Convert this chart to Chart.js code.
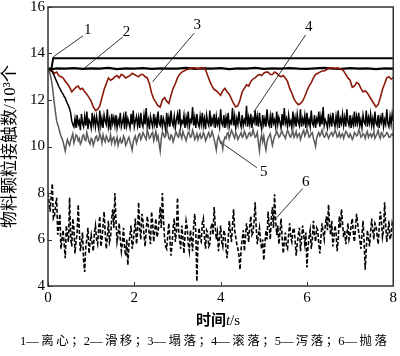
<!DOCTYPE html>
<html><head><meta charset="utf-8">
<script src="https://cdn.jsdelivr.net/npm/chart.js@4"></script>
<style>
html,body{margin:0;padding:0;background:#fff;}
#wrap{position:relative;width:400px;height:356px;overflow:hidden;}
#xt{position:absolute;left:118px;width:200px;top:310px;text-align:center;font-size:15px;line-height:18px;color:#000;}
#xt .cn{font-family:'Noto Sans CJK SC',sans-serif;font-weight:bold;}
#xt .en{font-family:'Liberation Serif',serif;}
#cap{position:absolute;left:20px;width:367px;top:333px;text-align:justify;text-align-last:justify;text-justify:inter-character;font-family:'Liberation Serif','Noto Sans CJK SC',serif;font-size:12.5px;line-height:16px;color:#000;white-space:nowrap;}
</style>
</head><body>
<div id="wrap">
<canvas id="c" width="400" height="356"></canvas>
<div id="xt"><span class="cn">时间</span><span class="en"><i>t</i>/s</span></div>
<div id="cap">1—离心；2—滑移；3—塌落；4—滚落；5—泻落；6—抛落</div>
</div>
<script>
// ---------- data ----------
const xTickLabels = [0, 2, 4, 6, 8];
const yTickLabels = [4, 6, 8, 10, 12, 14, 16];
const seriesNames = ['1', '2', '3', '4', '5', '6'];

// line 1 (离心): explicit time / value pairs
const line1T = [0, 0.08, 0.12, 8];
const line1V = [13.35, 13.35, 13.8, 13.8];

// line 2 (滑移): sampled every 0.2 s
const line2Step = 0.2;
const line2V = [13.30,13.36,13.35,13.37,13.34,13.36,13.35,13.38,13.33,13.36,
13.35,13.37,13.34,13.36,13.35,13.35,13.38,13.34,13.36,13.35,
13.37,13.33,13.36,13.35,13.38,13.34,13.36,13.35,13.37,13.35,
13.34,13.36,13.38,13.35,13.34,13.37,13.35,13.36,13.33,13.36,13.35];

// line 3 (塌落): sampled every 0.05 s
const line3Step = 0.05;
const line3V = [13.30,13.28,13.25,13.15,13.20,13.05,13.00,12.95,12.80,12.70,
12.55,12.35,12.45,12.55,12.60,12.45,12.50,12.35,12.25,12.10,
11.95,11.70,11.55,11.60,11.75,12.10,12.45,12.70,12.95,12.85,
12.90,13.00,13.05,12.95,13.10,13.05,12.95,13.00,13.05,13.15,
13.10,13.05,13.00,13.10,13.10,13.00,12.95,12.70,12.30,12.05,
11.90,11.75,11.70,12.00,12.10,11.95,11.85,12.20,12.50,12.70,
12.95,13.10,13.20,13.25,13.30,13.32,13.35,13.38,13.38,13.35,
13.35,13.38,13.38,13.30,13.05,12.80,12.60,12.45,12.40,12.30,
12.20,12.40,12.50,12.35,12.25,12.05,11.85,11.70,11.75,12.00,
12.35,12.50,12.65,12.60,12.80,12.90,12.95,13.05,13.10,13.05,
13.15,13.20,13.20,13.10,13.10,13.20,13.15,13.05,13.00,13.05,
12.95,12.80,12.50,12.30,12.05,11.90,11.80,11.85,11.95,12.15,
12.40,12.60,12.75,12.95,13.10,13.15,13.20,13.25,13.25,13.30,
13.35,13.38,13.38,13.35,13.38,13.35,13.32,13.25,13.10,12.95,
12.85,12.55,12.60,12.75,12.70,12.50,12.35,12.40,12.30,12.15,
12.00,11.85,11.70,11.80,12.10,12.45,12.70,12.95,13.00,12.90,
12.95];

// line 4 (滚落): sampled every 0.025 s
const line4Step = 0.025;
const line4V = [13.30,13.30,13.28,13.25,13.20,13.12,13.02,12.90,12.80,12.70,
12.58,12.50,12.40,12.32,12.25,12.15,12.08,11.95,11.85,11.75,
11.62,11.45,11.10,10.95,10.85,
11.20,10.80,11.35,10.95,11.10,10.70,11.40,11.00,10.85,11.30,10.90,11.50,10.75,11.15,11.05,10.80,11.45,10.95,11.25,10.85,
11.30,11.00,10.75,11.55,10.90,11.20,10.80,11.35,11.10,10.95,11.60,10.85,11.15,10.70,11.40,11.00,11.25,10.90,11.35,10.80,
11.15,10.95,11.45,10.85,11.05,11.30,10.75,11.50,10.90,11.20,11.00,10.80,11.40,10.95,11.55,10.85,11.10,11.30,10.90,11.25,
10.80,11.45,11.00,10.85,11.35,10.95,11.65,10.90,11.15,10.75,11.30,11.05,10.85,11.40,10.95,11.20,10.80,11.50,11.00,10.90,
11.35,10.85,11.20,11.00,10.70,11.45,10.95,11.25,10.85,11.55,11.05,10.90,11.30,10.80,11.15,11.40,10.95,11.60,10.85,11.10,
11.00,11.35,10.80,11.25,10.95,11.50,10.85,11.15,11.05,11.70,10.90,11.25,10.80,11.40,11.00,10.85,11.30,10.95,11.45,10.90,
11.20,10.75,11.35,11.05,10.90,11.55,10.85,11.20,11.00,11.40,10.80,11.30,10.95,11.15,10.85,11.60,11.00,10.90,11.35,10.80,
11.25,10.95,11.45,10.85,11.10,11.00,11.65,10.90,11.30,10.80,11.20,10.95,11.50,11.05,10.85,11.35,10.90,11.15,11.00,11.75,
10.85,11.25,10.95,11.40,10.80,11.20,11.05,11.55,10.90,11.30,10.85,11.45,11.00,10.75,11.35,10.95,11.20,10.85,11.60,11.05,
10.90,11.30,10.80,11.45,11.00,11.15,10.85,11.50,10.95,11.25,11.05,10.80,11.40,10.90,11.65,11.00,11.20,10.85,11.35,10.95,
11.10,10.80,11.50,10.95,11.25,10.85,11.40,11.05,10.90,11.60,10.85,11.20,11.00,11.35,10.80,11.45,10.95,11.15,10.85,11.55,
11.00,10.90,11.35,10.80,11.20,11.05,11.50,10.85,11.30,10.95,11.70,10.90,11.15,11.00,10.80,11.40,10.95,11.25,10.85,11.45,
11.05,10.85,11.30,10.95,11.55,10.80,11.20,11.00,11.40,10.90,11.25,10.85,11.60,11.05,10.90,11.35,10.80,11.20,10.95,11.50,
10.85,11.30,11.00,11.45,10.90,11.15,10.80,11.35,11.05,10.95,11.55,10.85,11.25,11.00,11.40,10.90,11.20,10.85,11.50,11.00,
10.90,11.35,10.80,11.25,11.05,11.45,10.85,11.15,10.95,11.60,11.00,10.85,11.30,10.95,11.40,11.10];

// line 5 (泻落): sampled every 0.025 s
const line5Step = 0.025;
const line5V = [13.30,13.25,13.10,12.90,12.60,12.20,11.80,11.45,11.10,10.95,
10.80,10.60,10.45,10.35,10.20,10.00,9.80,10.10,10.30,10.15,10.05,
10.25,10.40,10.55,10.15,10.30,10.50,10.45,10.25,10.35,10.10,10.20,10.45,10.50,10.30,10.25,10.60,10.40,10.20,10.10,10.35,
10.30,10.05,10.20,10.40,10.45,10.25,10.30,10.55,10.40,10.15,10.50,10.30,10.20,10.45,10.35,10.20,10.25,10.50,10.15,10.35,
10.40,10.10,10.25,10.40,10.05,10.25,10.35,10.15,10.20,10.45,10.35,10.05,10.15,10.30,10.40,10.20,10.05,9.85,10.20,10.35,
10.45,10.15,10.30,10.50,10.55,10.30,10.40,10.60,10.50,10.40,10.30,10.70,10.55,10.35,10.40,10.55,10.60,10.25,10.45,10.65,
10.30,10.45,10.10,9.80,10.35,10.60,10.55,10.40,10.45,10.75,10.60,10.35,10.30,10.50,10.45,10.20,10.35,10.55,10.60,10.45,
10.40,10.65,10.50,10.35,10.65,10.50,10.40,10.25,10.45,10.60,10.55,10.40,10.45,10.70,10.55,10.30,10.40,10.55,10.30,10.45,
10.55,10.35,10.40,10.60,10.50,10.25,10.35,10.50,10.60,10.40,10.45,10.65,10.50,10.30,10.10,9.85,10.25,10.45,10.30,10.15,
10.20,9.90,10.25,10.40,10.35,10.55,10.60,10.35,10.50,10.70,10.60,10.45,10.35,10.60,10.50,10.30,10.40,10.50,10.60,10.40,
10.45,10.65,10.55,10.35,10.40,10.55,10.60,10.45,10.50,10.75,10.55,10.40,10.45,10.60,10.15,9.80,10.30,10.50,10.20,10.45,
10.10,9.85,10.20,10.35,10.45,10.55,10.30,10.05,10.25,10.45,10.50,10.65,10.55,10.40,10.45,10.60,10.65,10.50,10.45,10.35,
10.55,10.70,10.60,10.45,10.40,10.55,10.65,10.40,10.50,10.65,10.40,10.50,10.55,10.30,10.45,10.60,10.70,10.45,10.55,10.75,
10.60,10.40,10.45,10.55,10.60,10.35,10.20,10.00,10.35,10.50,10.60,10.45,10.55,10.70,10.50,10.40,10.45,10.60,10.50,10.35,
10.45,10.55,10.60,10.45,10.55,10.70,10.60,10.40,10.45,10.60,10.40,10.50,10.55,10.35,10.50,10.65,10.60,10.45,10.40,10.55,
10.45,10.30,10.40,10.60,10.55,10.45,10.50,10.70,10.60,10.40,10.45,10.55,10.50,10.35,10.55,10.65,10.40,10.50,10.55,10.40,
10.50,10.60,10.35,10.45,10.55,10.70,10.45,10.35,10.60,10.55,10.40,10.45,10.50,10.60,10.55,10.40,10.40,10.50,10.55,10.45];

// line 6 (抛落): sampled every 0.025 s
const line6Step = 0.025;
const line6V = [8.0,7.6,7.2,7.9,8.4,6.9,7.0,7.5,7.8,6.2,6.6,7.1,5.6,6.0,6.4,5.8,5.2,6.6,6.2,5.9,
7.8,6.1,5.7,6.9,6.5,5.4,5.9,6.3,7.5,6.4,5.5,5.9,6.3,5.1,4.6,5.7,6.0,6.5,5.4,5.9,
6.2,5.8,5.5,6.3,6.6,6.0,5.8,6.5,7.0,5.7,6.0,6.6,7.2,6.3,5.6,6.1,6.8,5.9,6.1,6.9,
7.3,6.5,8.0,6.8,5.9,6.2,6.7,6.0,5.5,5.9,6.5,5.6,5.3,6.0,4.9,5.8,6.2,6.6,5.6,5.9,
6.4,6.9,5.8,6.3,7.6,6.5,6.0,7.1,6.8,6.2,5.7,6.4,7.0,6.6,6.2,5.8,7.2,6.7,5.9,6.4,
6.9,6.1,6.3,6.8,7.4,6.5,8.0,6.9,6.1,5.7,5.6,6.2,6.7,6.0,5.3,5.8,6.5,6.9,5.9,6.3,
7.8,6.4,6.0,5.6,6.6,6.1,5.4,6.2,6.8,6.5,5.8,5.5,6.4,6.0,5.5,6.6,7.1,6.3,4.2,5.9,
6.5,6.0,5.9,6.7,6.9,6.1,5.6,6.4,6.3,5.7,5.8,6.5,6.7,6.2,7.4,6.6,6.0,6.3,5.5,6.1,
6.6,5.9,5.7,6.4,6.2,5.6,5.2,6.0,6.8,6.3,5.9,6.6,7.3,6.4,6.1,5.8,5.6,5.3,4.7,5.6,
6.0,6.4,5.5,6.1,6.7,6.3,5.9,6.6,7.0,6.2,6.3,6.8,7.6,6.5,5.8,6.2,6.5,5.9,5.6,6.0,
5.1,5.8,6.4,6.0,7.2,6.6,6.0,6.9,7.4,6.5,7.95,6.8,6.2,6.6,5.8,6.3,6.9,6.1,5.4,5.9,
6.3,5.7,5.6,6.2,6.7,6.1,5.9,6.4,6.5,6.0,5.3,5.8,6.2,6.5,5.5,6.0,6.6,6.2,5.8,6.3,
4.8,5.7,6.1,6.4,5.6,6.0,6.8,6.2,5.9,6.5,6.4,5.8,5.4,6.1,6.7,6.3,6.0,6.6,7.0,6.4,
7.5,6.6,6.2,6.8,5.7,6.1,6.6,6.3,5.5,6.0,7.0,6.5,7.3,6.7,6.1,6.4,5.8,6.2,6.7,6.0,
6.2,6.6,6.9,6.3,5.9,6.5,7.1,6.7,6.3,6.0,5.6,6.2,6.8,5.9,4.7,5.6,6.4,6.1,5.7,6.3,
6.9,6.4,6.0,6.7,6.6,6.2,5.8,6.5,7.2,6.8,6.1,6.4,7.6,6.6,5.9,6.3,6.8,6.0,6.2,6.7,
6.5];

// ---------- build ----------
const pts = (vals, step) => vals.map((v, i) => ({ x: +(i * step).toFixed(3), y: v }));
const FONT = "'Liberation Serif','Noto Sans CJK SC',serif";

// callout layout (data units): text anchor, leader start, leader end
const callouts = [
  { text: [0.92, 15.0],  from: [0.81, 14.76], to: [0.12, 13.85] },
  { text: [1.82, 14.93], from: [1.73, 14.71], to: [0.85, 13.38] },
  { text: [3.46, 15.23], from: [3.39, 14.88], to: [2.42, 12.78] },
  { text: [6.04, 15.14], from: [5.97, 14.80], to: [4.77, 11.49] },
  { text: [5.00, 8.92],  from: [4.84, 9.09],  to: [4.08, 10.08] },
  { text: [5.97, 8.45],  from: [5.90, 8.19],  to: [5.30, 6.94] }
];

const framePlugin = {
  id: 'frame',
  afterDraw(chart) {
    const { ctx, chartArea: a, scales: { x, y } } = chart;
    ctx.save();
    ctx.strokeStyle = '#333';
    ctx.lineWidth = 1.5;
    ctx.strokeRect(a.left, a.top, a.right - a.left, a.bottom - a.top);
    ctx.lineWidth = 1;
    xTickLabels.forEach(v => {
      const p = Math.round(x.getPixelForValue(v)) + 0.5;
      ctx.beginPath(); ctx.moveTo(p, a.bottom); ctx.lineTo(p, a.bottom - 4); ctx.stroke();
    });
    yTickLabels.forEach(v => {
      const p = Math.round(y.getPixelForValue(v)) + 0.5;
      ctx.beginPath(); ctx.moveTo(a.left, p); ctx.lineTo(a.left + 4, p); ctx.stroke();
    });
    // callouts
    ctx.lineWidth = 0.8;
    ctx.strokeStyle = '#000';
    ctx.fillStyle = '#000';
    ctx.font = '15px ' + FONT;
    ctx.textAlign = 'center';
    ctx.textBaseline = 'middle';
    callouts.forEach((c, i) => {
      ctx.beginPath();
      ctx.moveTo(x.getPixelForValue(c.from[0]), y.getPixelForValue(c.from[1]));
      ctx.lineTo(x.getPixelForValue(c.to[0]), y.getPixelForValue(c.to[1]));
      ctx.stroke();
      ctx.fillText(seriesNames[i], x.getPixelForValue(c.text[0]), y.getPixelForValue(c.text[1]));
    });
    ctx.restore();
  }
};

const ds = (label, data, color, width, dash) => ({
  label, data, borderColor: color, borderWidth: width, borderDash: dash || [],
  pointRadius: 0, tension: 0, fill: false
});

new Chart(document.getElementById('c'), {
  type: 'line',
  data: {
    datasets: [
      ds(seriesNames[5], pts(line6V, line6Step), '#000', 1.6, [4, 2]),
      ds(seriesNames[4], pts(line5V, line5Step), '#5a5a5a', 1.5),
      ds(seriesNames[3], pts(line4V, line4Step), '#000', 1.5),
      ds(seriesNames[2], pts(line3V, line3Step), '#8c1a0a', 1.6),
      ds(seriesNames[1], pts(line2V, line2Step), '#000', 2.2),
      ds(seriesNames[0], line1T.map((t, i) => ({ x: t, y: line1V[i] })), '#000', 2)
    ]
  },
  options: {
    responsive: false,
    animation: false,
    devicePixelRatio: 1,
    layout: { padding: { left: 0, right: 5, top: 0, bottom: 45 } },
    plugins: { legend: { display: false }, tooltip: { enabled: false } },
    scales: {
      x: {
        type: 'linear', min: 0, max: 8,
        afterBuildTicks: s => { s.ticks = xTickLabels.map(v => ({ value: v })); },
        afterFit: s => { s.height = 25; },
        grid: { display: false, drawTicks: false },
        border: { display: false },
        ticks: { color: '#000', font: { family: FONT, size: 15 }, padding: 3, maxRotation: 0 }
      },
      y: {
        type: 'linear', min: 4, max: 16,
        afterBuildTicks: s => { s.ticks = yTickLabels.map(v => ({ value: v })); },
        afterFit: s => { s.width = 48; s.paddingTop = 7; s.paddingBottom = 0; },
        grid: { display: false, drawTicks: false },
        border: { display: false },
        ticks: { color: '#000', font: { family: FONT, size: 15 }, padding: 3 },
        title: { display: true, text: '物料颗粒接触数/10³个', color: '#000', font: { family: FONT, size: 17 }, padding: 0 }
      }
    }
  },
  plugins: [framePlugin]
});
</script>
</body></html>
